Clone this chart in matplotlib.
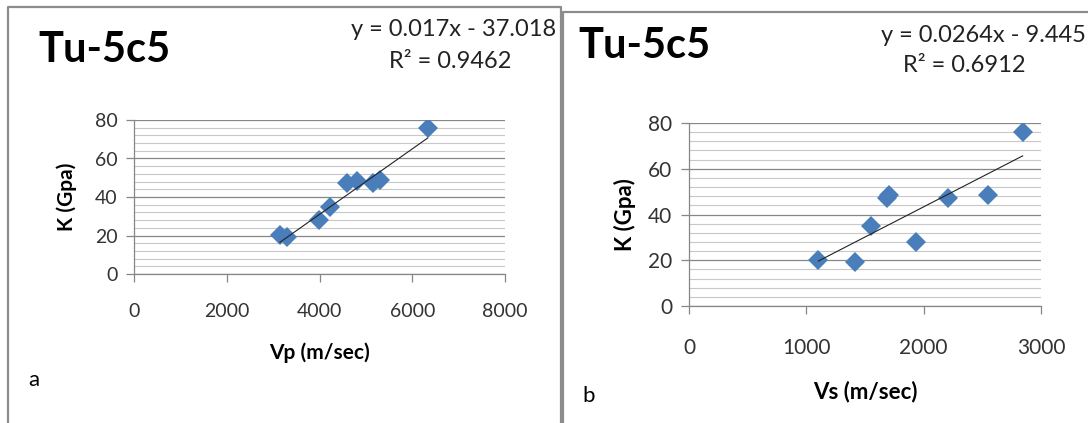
import numpy as np
import matplotlib.pyplot as plt
from matplotlib.lines import Line2D
from matplotlib.ticker import MultipleLocator

plt.rcParams['font.family'] = ['Lato', 'DejaVu Sans']

# bulk modulus (GPa) against P and S wave velocities
k_gpa = [20.2, 19.3, 27.8, 35.0, 47.2, 48.4, 47.1, 48.7, 75.9]
vp = [3148, 3292, 3989, 4226, 4586, 4816, 5161, 5305, 6332]
vs = [1102, 1415, 1935, 1548, 1690, 1705, 2210, 2551, 2844]

# linear fits as printed on each chart
fit_a = (0.017, -37.018, 0.9462)
fit_b = (0.0264, -9.445, 0.6912)

W, H = 1088, 423
fig = plt.figure(figsize=(W / 100, H / 100), dpi=100)
fig.patch.set_facecolor('white')


def px(x, y):
    return x / W, 1 - y / H


def box(x0, y0, x1):
    xs = [x0, x0, x1, x1] if x1 < W else [x0, x0, x1]
    ys = [H, y0, y0, H] if x1 < W else [H, y0, y0]
    fx = [x / W for x in xs]
    fy = [1 - y / H for y in ys]
    fig.add_artist(Line2D(fx, fy, color='#8c8c8c', lw=1.6, transform=fig.transFigure))


box(8, 7, 561)
box(563, 12, W)


def panel(rect, x, fit, xmax, xstep, xlabel, tick_fs, xpad, lab_fs, ylpad, xlpad):
    ax = fig.add_axes(rect)
    ax.set_xlim(0, xmax)
    ax.set_ylim(0, 80)
    ax.xaxis.set_major_locator(MultipleLocator(xstep))
    ax.yaxis.set_major_locator(MultipleLocator(20))
    ax.yaxis.set_minor_locator(MultipleLocator(4))
    ax.grid(axis='y', which='major', color='#878787', lw=0.9)
    ax.grid(axis='y', which='minor', color='#c8c8c8', lw=0.8)
    ax.set_axisbelow(True)
    for s in ['top', 'right']:
        ax.spines[s].set_visible(False)
    for s in ['left', 'bottom']:
        ax.spines[s].set_color('#878787')
        ax.spines[s].set_linewidth(0.9)
    ax.tick_params(which='major', length=6, width=0.9, color='#878787',
                   labelsize=tick_fs, labelcolor='#333333', pad=6)
    ax.tick_params(axis='x', pad=xpad)
    ax.tick_params(which='minor', length=0)

    ax.plot(x, k_gpa, 'D', color='#4a7ebb', markersize=10, markeredgewidth=0, zorder=3)
    m, c, r2 = fit
    xs = np.array([min(x), max(x)])
    ax.plot(xs, m * xs + c, color='#222222', lw=0.8, zorder=4)

    ax.set_ylabel('K (Gpa)', fontsize=lab_fs, fontweight='bold', labelpad=ylpad)
    ax.set_xlabel(xlabel, fontsize=lab_fs, fontweight='bold', labelpad=xlpad)
    return ax


ax_a = panel([134 / W, 1 - 274 / H, 371 / W, 154 / H], vp, fit_a, 8000, 2000,
             'Vp (m/sec)', 14, 15, 15, 13, 16)
ax_b = panel([689 / W, 1 - 306 / H, 352 / W, 183 / H], vs, fit_b, 3000, 1000,
             'Vs (m/sec)', 15, 17, 16, 9, 16)

# titles, fit labels and panel letters
fig.text(*px(38, 50), 'Tu-5c5', fontsize=30, fontweight='bold', va='center', ha='left')
fig.text(*px(578, 46), 'Tu-5c5', fontsize=30, fontweight='bold', va='center', ha='left')

fig.text(*px(556, 30), 'y = %.3fx - %.3f' % (fit_a[0], -fit_a[1]), fontsize=17,
         ha='right', va='center', color='#222222')
fig.text(*px(450, 61), 'R² = %.4f' % fit_a[2], fontsize=17, ha='center', va='center',
         color='#222222')
fig.text(*px(1086, 35), 'y = %.4fx - %.3f' % (fit_b[0], -fit_b[1]), fontsize=17,
         ha='right', va='center', color='#222222')
fig.text(*px(964, 66), 'R² = %.4f' % fit_b[2], fontsize=17, ha='center', va='center',
         color='#222222')

fig.text(*px(28, 380), 'a', fontsize=16, ha='left', va='center')
fig.text(*px(582, 396), 'b', fontsize=16, ha='left', va='center')

fig.savefig('out.png', dpi=100)
